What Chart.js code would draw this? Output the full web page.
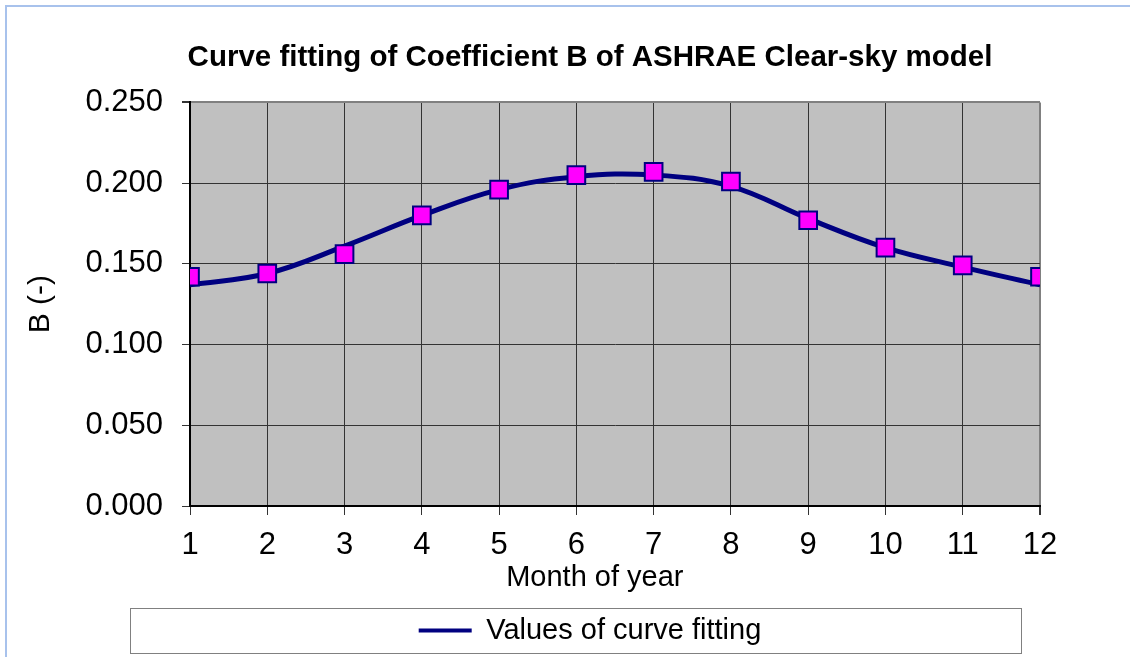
<!DOCTYPE html>
<html>
<head>
<meta charset="utf-8">
<title>Coefficient B - ASHRAE Clear-sky model</title>
<script src="https://cdn.jsdelivr.net/npm/chart.js@4/dist/chart.umd.min.js"></script>
<style>
    html, body { margin: 0; padding: 0; background: #fff; }
    #wrap { width: 1130px; height: 657px; position: relative; }
</style>
</head>
<body>
<div id="wrap"><canvas id="coefChart" width="1130" height="657"></canvas></div>
<script>
// Monthly values
const months = [1, 2, 3, 4, 5, 6, 7, 8, 9, 10, 11, 12];
const measuredB = [0.142, 0.144, 0.156, 0.180, 0.196, 0.205, 0.207, 0.201, 0.177, 0.160, 0.149, 0.142];
const fittedB = [0.137, 0.144, 0.161, 0.180, 0.196, 0.204, 0.205, 0.198, 0.178, 0.160, 0.148, 0.137];
const yTicks = [0, 0.05, 0.10, 0.15, 0.20, 0.25];

const FONT = "'Liberation Sans', Arial, sans-serif";
const NAVY = '#000080';

// gray plot background, outer frame and the legend border
const frame = {
    id: 'frame',
    beforeDraw(chart) {
        const ctx = chart.ctx;
        const a = chart.chartArea;
        ctx.save();
        ctx.fillStyle = '#fff';
        ctx.fillRect(0, 0, chart.width, chart.height);
        ctx.strokeStyle = '#a8c2ec';
        ctx.lineWidth = 2;
        ctx.beginPath();
        ctx.moveTo(6, chart.height);
        ctx.lineTo(6, 6);
        ctx.lineTo(chart.width, 6);
        ctx.stroke();
        ctx.fillStyle = '#c0c0c0';
        ctx.fillRect(a.left, a.top, a.right - a.left, a.bottom - a.top);
        ctx.restore();
    },
    afterLayout(chart) {
        // title and legend are centred on the frame, not on the canvas
        [chart.titleBlock, chart.legend].forEach(b => {
            b.left = 50;
            b.right = 1130;
            b.width = 1080;
        });
    },
    afterDraw(chart) {
        const ctx = chart.ctx;
        const lg = chart.legend;
        ctx.save();
        ctx.strokeStyle = '#808080';
        ctx.lineWidth = 1;
        ctx.strokeRect(130.5, lg.top + 2.5, 891, lg.bottom - lg.top - 4);
        ctx.restore();
    }
};

const ctx = document.getElementById('coefChart').getContext('2d');
const coefChart = new Chart(ctx, {
    type: 'line',
    data: {
        datasets: [{
            label: 'Values of curve fitting',
            data: months.map((m, i) => ({ x: m, y: fittedB[i] })),
            borderColor: NAVY,
            backgroundColor: NAVY,
            borderWidth: 5,
            tension: 0.4,
            pointRadius: 0,
            order: 1
        }, {
            label: 'Measured',
            data: months.map((m, i) => ({ x: m, y: measuredB[i] })),
            showLine: false,
            pointStyle: 'rect',
            pointRadius: 12.5,
            pointBackgroundColor: '#ff00ff',
            pointBorderColor: NAVY,
            pointBorderWidth: 2,
            order: 0
        }]
    },
    options: {
        responsive: false,
        animation: false,
        layout: {
            padding: { left: 0, right: 90, top: 0, bottom: 2 }
        },
        scales: {
            x: {
                type: 'linear',
                min: 1,
                max: 12,
                afterFit: function(scale) { scale.height = 100; },
                afterBuildTicks: function(scale) {
                    scale.ticks = months.map(m => ({ value: m }));
                },
                border: { color: '#000', width: 2 },
                grid: {
                    color: c => c.index === months.length - 1 ? '#808080' : '#333',
                    lineWidth: c => c.index === months.length - 1 ? 2 : 1,
                    tickColor: '#333',
                    tickLength: 9
                },
                ticks: {
                    color: '#000',
                    padding: 12,
                    maxRotation: 0,
                    font: { family: FONT, size: 31 }
                },
                title: {
                    display: true,
                    // trailing spaces nudge the label left like in the original
                    text: 'Month of year\u00a0\u00a0\u00a0\u00a0\u00a0',
                    color: '#000',
                    font: { family: FONT, size: 29 },
                    padding: { top: 0, bottom: 11 }
                }
            },
            y: {
                min: 0,
                max: 0.25,
                afterFit: function(scale) { scale.width = 190; },
                afterBuildTicks: function(scale) {
                    scale.ticks = yTicks.map(v => ({ value: v }));
                },
                border: { color: '#000', width: 2 },
                grid: {
                    color: c => c.index === yTicks.length - 1 ? '#808080' : '#333',
                    lineWidth: c => c.index === yTicks.length - 1 ? 2 : 1,
                    tickColor: '#333',
                    tickLength: 8
                },
                ticks: {
                    color: '#000',
                    padding: 19,
                    font: { family: FONT, size: 31 },
                    callback: v => v.toFixed(3)
                },
                title: {
                    display: true,
                    text: 'B (-)',
                    color: '#000',
                    font: { family: FONT, size: 30 },
                    padding: { top: 23, bottom: 0 }
                }
            }
        },
        plugins: {
            title: {
                display: true,
                text: 'Curve fitting of Coefficient B of ASHRAE Clear-sky model',
                color: '#000',
                font: { family: FONT, size: 29.5, weight: 'bold' },
                padding: { top: 40, bottom: 27 }
            },
            legend: {
                position: 'bottom',
                labels: {
                    color: '#000',
                    font: { family: FONT, size: 29 },
                    boxWidth: 53,
                    boxHeight: 4,
                    padding: 10,
                    generateLabels: function(chart) {
                        return Chart.defaults.plugins.legend.labels.generateLabels(chart)
                            .filter(item => item.datasetIndex === 0)
                            .map(item => Object.assign(item, { fillStyle: NAVY, lineWidth: 0 }));
                    }
                }
            },
            tooltip: { enabled: false }
        }
    },
    plugins: [frame]
});
</script>
</body>
</html>
